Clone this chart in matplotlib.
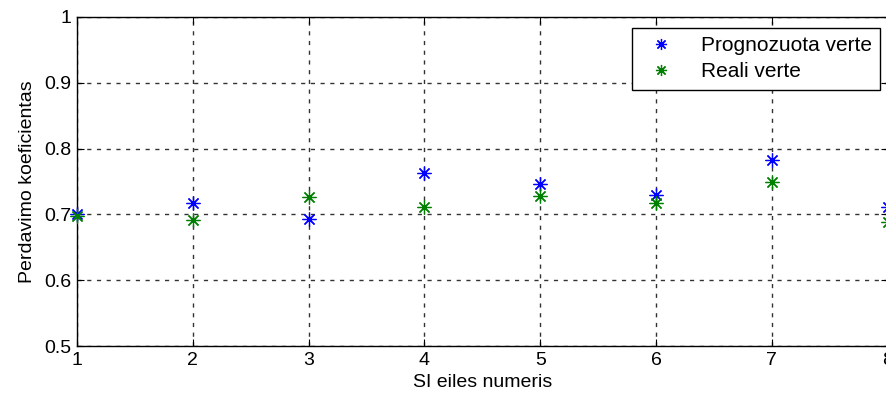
import matplotlib
matplotlib.use("Agg")
import matplotlib.pyplot as plt

# Series data
seq_numbers = [1, 2, 3, 4, 5, 6, 7, 8]
predicted = [0.701, 0.718, 0.693, 0.763, 0.746, 0.729, 0.783, 0.712]
actual = [0.697, 0.691, 0.727, 0.712, 0.728, 0.717, 0.749, 0.688]
x_ticks = [1, 2, 3, 4, 5, 6, 7, 8]
y_ticks = [0.5, 0.6, 0.7, 0.8, 0.9, 1.0]
y_tick_labels = ["0.5", "0.6", "0.7", "0.8", "0.9", "1"]

font = "Liberation Sans"
asterisk = (8, 2, 0)

fig = plt.figure(figsize=(8.86, 3.99), dpi=100)
ax = fig.add_axes([0.0869, 0.1328, 0.915, 0.8246])

ax.plot(seq_numbers, predicted, linestyle="none", marker=asterisk, color="#0000ff",
        markersize=10, markeredgewidth=0.9, label="Prognozuota verte", clip_on=False, zorder=3)
ax.plot(seq_numbers, actual, linestyle="none", marker=asterisk, color="#008000",
        markersize=10, markeredgewidth=0.9, label="Reali verte", clip_on=False, zorder=3)

ax.set_xlim(1, 8)
ax.set_ylim(0.5, 1.0)
ax.set_xticks(x_ticks)
ax.set_xticklabels([str(v) for v in x_ticks], fontfamily=font, fontsize=14)
ax.set_yticks(y_ticks)
ax.set_yticklabels(y_tick_labels, fontfamily=font, fontsize=14)
ax.tick_params(direction="in", length=5, width=0.8, top=True, right=True, pad=4)

ax.grid(True, color="#333333", linestyle=(0, (3, 4)), linewidth=1.0)
for s in ax.spines.values():
    s.set_linewidth(1.0)

ax.set_xlabel("SI eiles numeris", fontfamily=font, fontsize=14, labelpad=4)
ax.set_ylabel("Perdavimo koeficientas", fontfamily=font, fontsize=14, labelpad=6)

leg = ax.legend(loc="upper right", bbox_to_anchor=(0.9905, 0.967),
                prop={"family": font, "size": 15},
                fancybox=False, framealpha=1, edgecolor="black", markerscale=0.8,
                borderpad=0.4, handlelength=2.0, handletextpad=0.9,
                labelspacing=0.35, borderaxespad=0)
leg.get_frame().set_linewidth(1.0)

fig.savefig("out.png", dpi=100)
